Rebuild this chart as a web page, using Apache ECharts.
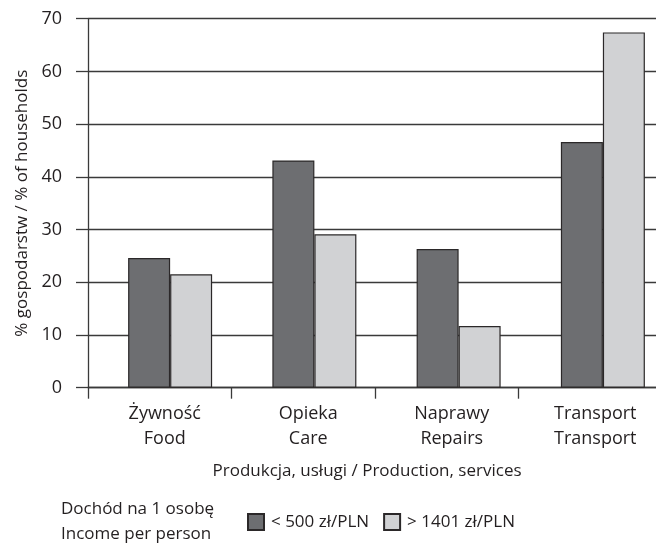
<!DOCTYPE html>
<html><head><meta charset="utf-8">
<script src="https://cdn.jsdelivr.net/npm/echarts@6/dist/echarts.min.js"></script>
<style>html,body{margin:0;padding:0;background:#fff}#c{width:656px;height:544px}</style>
</head><body><div id="c"></div>
<script>
const categories = ["Żywność\nFood", "Opieka\nCare", "Naprawy\nRepairs", "Transport\nTransport"];
const seriesNames = ["< 500 zł/PLN", "> 1401 zł/PLN"];
const lowIncome = [24.6, 43.1, 26.3, 46.6];
const highIncome = [21.5, 29.1, 11.7, 67.4];
const yTicks = [0, 10, 20, 30, 40, 50, 60, 70];
const xAxisName = "Produkcja, usługi / Production, services";
const yAxisName = "% gospodarstw / % of households";
const legendTitle = "Dochód na 1 osobę\nIncome per person";

const FONT = "Open Sans";
const TXT = "#231f20";
const LINE = "#3a3a3a";
const chart = echarts.init(document.getElementById('c'), null, {renderer: 'canvas'});
chart.setOption({
  animation: false,
  textStyle: {fontFamily: FONT, color: TXT},
  title: {
    text: legendTitle, left: 61, top: 497, padding: 0,
    textStyle: {fontFamily: FONT, fontSize: 17, fontWeight: 'normal', color: TXT, lineHeight: 25}
  },
  legend: {
    data: seriesNames, left: 247, top: 513, itemWidth: 16, itemHeight: 16, itemGap: 14,
    icon: 'rect', padding: 0,
    textStyle: {fontFamily: FONT, fontSize: 17, color: TXT, padding: [0, 0, 0, 2]}
  },
  grid: [
    {left: 88, top: 18.7, height: 369, width: 574, outerBoundsMode: 'none', containLabel: false},
    {left: 98, top: 18.7, height: 369, width: 577, outerBoundsMode: 'none', containLabel: false}
  ],
  xAxis: [
    {type: 'category', gridIndex: 0, data: categories, boundaryGap: true,
     axisLine: {lineStyle: {color: LINE, width: 1.3}},
     axisTick: {show: true, length: 11, inside: false, lineStyle: {color: LINE, width: 1.3}},
     axisLabel: {fontFamily: FONT, fontSize: 18, color: TXT, lineHeight: 25, margin: 14, padding: [0, 0, 0, 10]},
     name: xAxisName, nameLocation: 'middle', nameGap: 75,
     nameTextStyle: {fontFamily: FONT, fontSize: 17, color: TXT, padding: [0, 16, 0, 0]}
    },
    {type: 'category', gridIndex: 1, data: categories, show: false}
  ],
  yAxis: [
    {type: 'value', gridIndex: 0, min: 0, max: 70, interval: 10,
     axisLine: {show: true, lineStyle: {color: LINE, width: 1.3}},
     axisTick: {show: true, length: 12, lineStyle: {color: LINE, width: 1.3}},
     axisLabel: {fontFamily: FONT, fontSize: 18, color: TXT, margin: 26,
       formatter: v => yTicks.includes(v) ? String(v) : ''},
     splitLine: {show: true, lineStyle: {color: LINE, width: 1.3}},
     name: yAxisName, nameLocation: 'middle', nameGap: 56,
     nameTextStyle: {fontFamily: FONT, fontSize: 17, color: TXT}
    },
    {type: 'value', gridIndex: 1, min: 0, max: 70, show: false}
  ],
  series: [
    {name: seriesNames[0], type: 'bar', xAxisIndex: 1, yAxisIndex: 1, data: lowIncome,
     barWidth: 42, barGap: '0%',
     itemStyle: {color: '#6d6e71', borderColor: '#2b2829', borderWidth: 1.2}},
    {name: seriesNames[1], type: 'bar', xAxisIndex: 1, yAxisIndex: 1, data: highIncome,
     barWidth: 42, barGap: '0%',
     itemStyle: {color: '#d1d2d4', borderColor: '#2b2829', borderWidth: 1.2}}
  ]
});
</script></body></html>
